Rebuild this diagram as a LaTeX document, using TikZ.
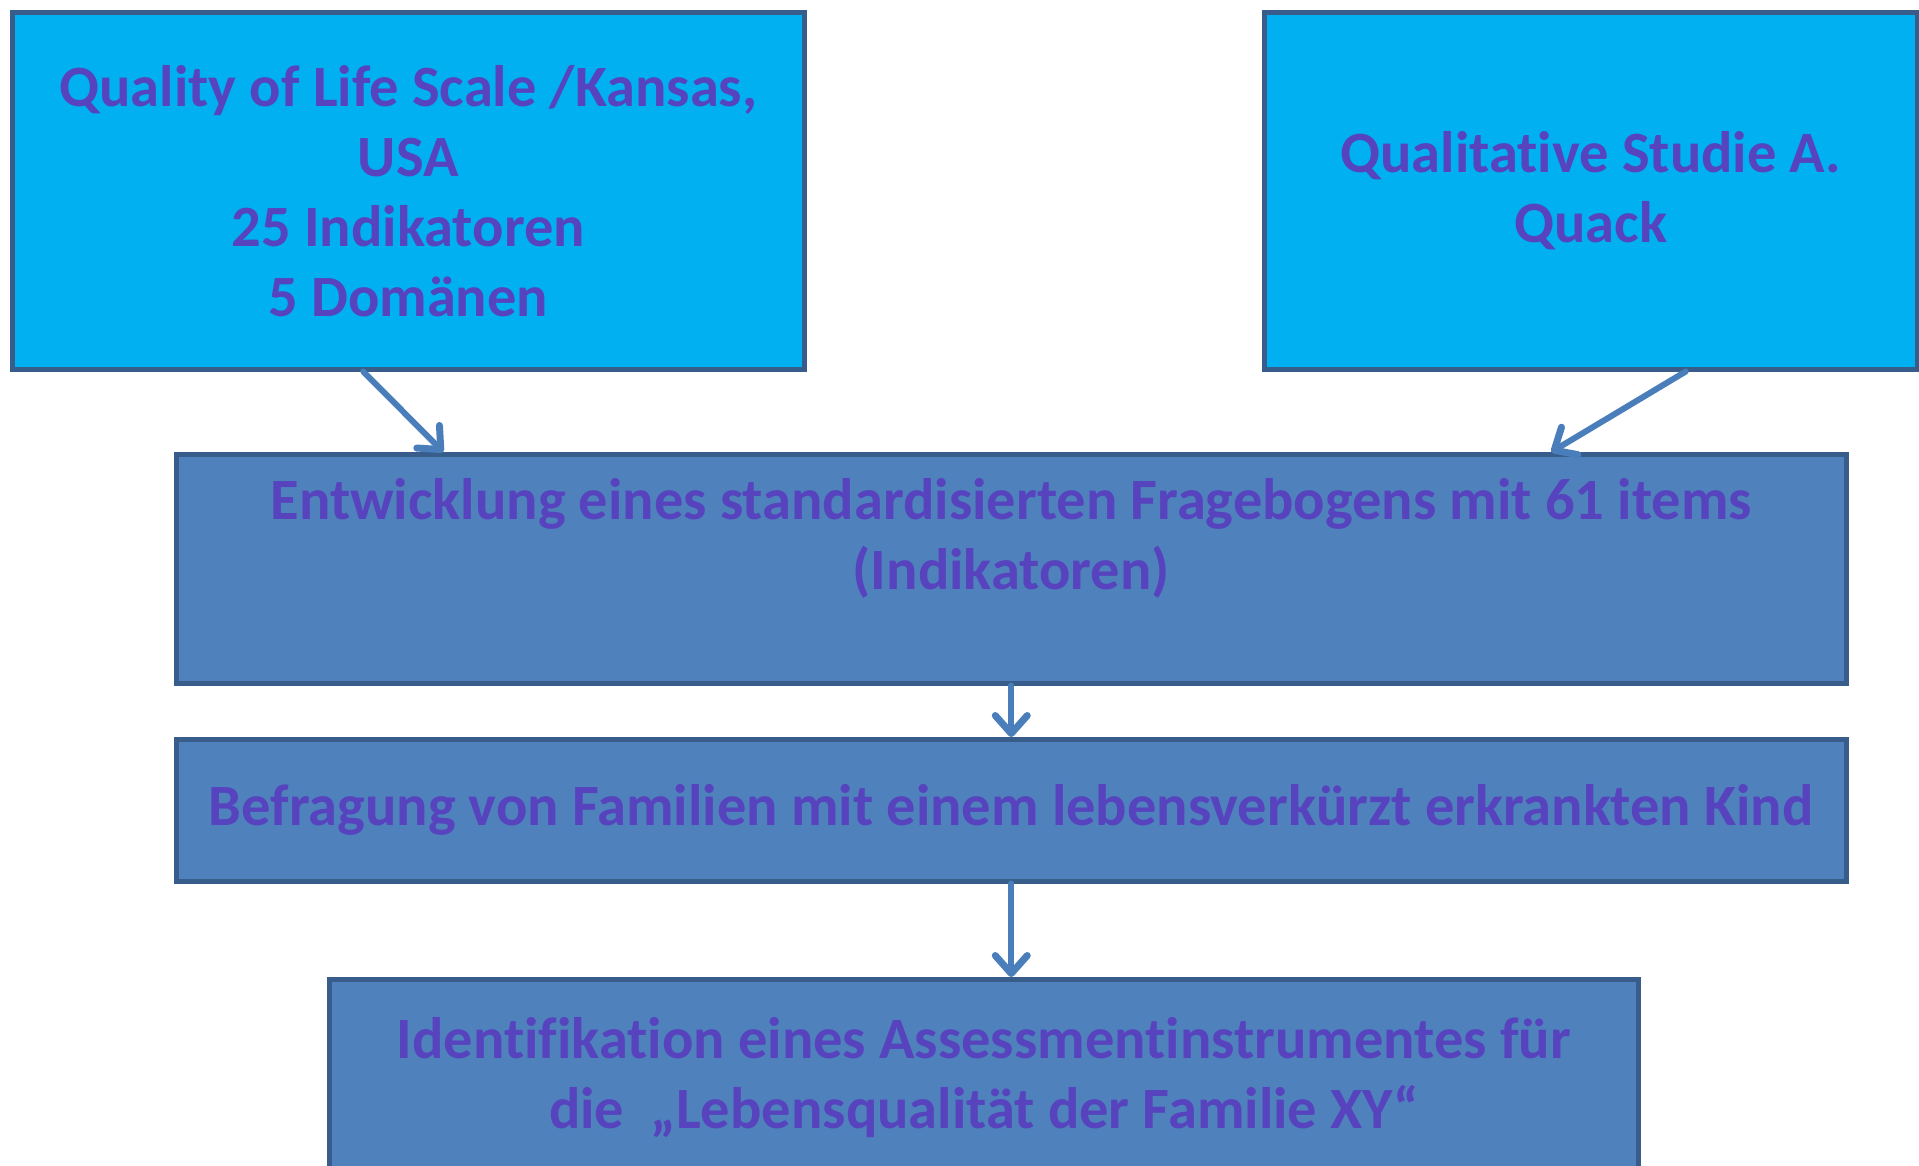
\documentclass[tikz,border=0pt]{standalone}
\usepackage{fontspec}
\setmainfont[Ligatures=NoCommon]{Carlito}
\usetikzlibrary{arrows.meta}
\definecolor{lightfill}{HTML}{00B0F0}
\definecolor{darkfill}{HTML}{4F81BD}
\definecolor{edgecol}{HTML}{385D8A}
\definecolor{arrowcol}{HTML}{4A7EBB}
\definecolor{txtcol}{RGB}{87,67,190}
\begin{document}
\begin{tikzpicture}[x=1pt,y=-1pt,
  box/.style={draw=edgecol, line width=4.5pt, anchor=north west, inner sep=0pt,
    align=center, text=txtcol, font=\fontsize{58.5}{70}\selectfont\bfseries},
  lightbox/.style={box, fill=lightfill},
  darkbox/.style={box, fill=darkfill},
  conn/.style={draw=arrowcol, line width=6pt, line cap=round,
    -{Straight Barb[length=18pt,width=32pt,line width=7pt,round]}}]
\useasboundingbox (0,0) rectangle (1919,1165);
\fill[white] (0,0) rectangle (1919,1165);
\node[lightbox, minimum width=792pt, minimum height=357pt] (b1) at (10,10)
  {Quality of Life Scale /Kansas,\\USA\\25 Indikatoren\\5 Domänen};
\node[lightbox, minimum width=653pt, minimum height=357pt] (b2) at (1262,10)
  {Qualitative Studie A.\\Quack};
\node[darkbox, minimum width=1670pt, minimum height=229pt] (b3) at (174,452)
  {Entwicklung eines standardisierten Fragebogens mit 61 items\\(Indikatoren)\\\mbox{}};
\node[darkbox, minimum width=1670pt, minimum height=142pt] (b4) at (174,737)
  {Befragung von Familien mit einem lebensverkürzt erkrankten Kind};
\node[darkbox, minimum width=1309pt, minimum height=197pt] (b5) at (327,977)
  {Identifikation eines Assessmentinstrumentes für\\die\ \ „Lebensqualität der Familie XY“};
\draw[conn] ([xshift=-45pt]b1.south) -- ([xshift=-568pt]b3.north);
\draw[conn] ([xshift=95pt]b2.south) -- ([xshift=540pt]b3.north);
\draw[conn] (b3.south) -- (b4.north);
\draw[conn] (b4.south) -- (b4.south |- b5.north);
\end{tikzpicture}
\end{document}
